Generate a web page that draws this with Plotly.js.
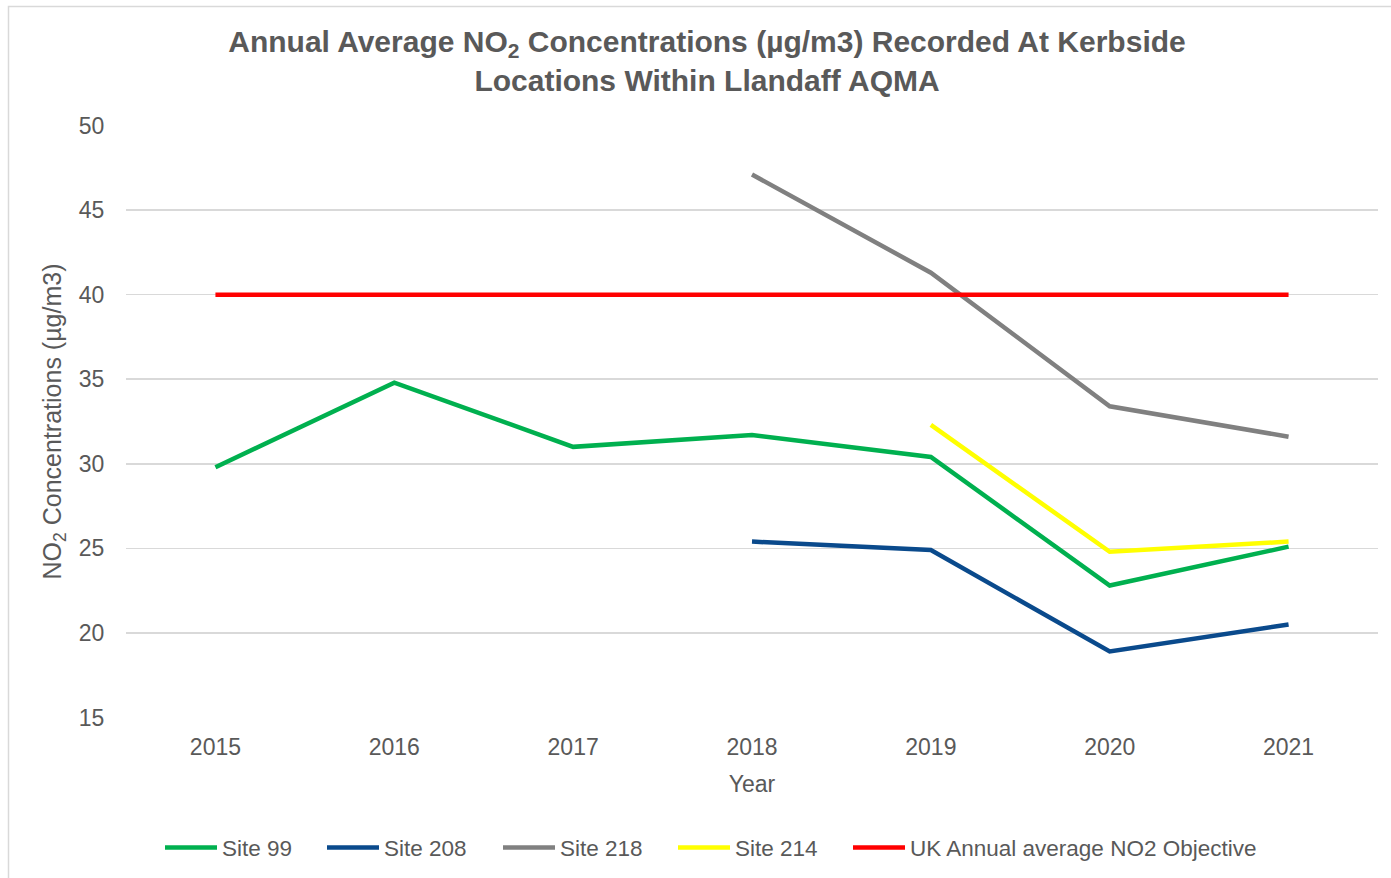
<!DOCTYPE html>
<html>
<head>
<meta charset="utf-8">
<script src="https://cdn.plot.ly/plotly-3.0.1.min.js"></script>
<style>html,body{margin:0;padding:0;background:#fff;}#chart{width:1391px;height:878px;}</style>
</head>
<body>
<div id="chart"></div>
<script>
const years = ['2015', '2016', '2017', '2018', '2019', '2020', '2021'];
const site99 = [29.8, 34.8, 31.0, 31.7, 30.4, 22.8, 25.1];
const site208 = [null, null, null, 25.4, 24.9, 18.9, 20.5];
const site218 = [null, null, null, 47.1, 41.3, 33.4, 31.6];
const site214 = [null, null, null, null, 32.3, 24.8, 25.4];
const ukObjective = [40, 40, 40, 40, 40, 40, 40];
const seriesNames = ['Site 99', 'Site 208', 'Site 218', 'Site 214', 'UK Annual average NO2 Objective'];
const seriesColors = ['#00b04f', '#0a4a8c', '#808080', '#ffff00', '#ff0000'];
const seriesValues = [site99, site208, site218, site214, ukObjective];

const legendIds = ['legend', 'legend2', 'legend3', 'legend4', 'legend5'];
const legendStartPx = [165, 327, 503, 678, 853];

const traces = seriesValues.map((vals, i) => ({
  x: years,
  y: vals,
  name: seriesNames[i],
  type: 'scatter',
  mode: 'lines',
  connectgaps: false,
  legend: legendIds[i],
  line: {color: seriesColors[i], width: 4.5}
}));
const gray = '#595959';
const layout = {
  width: 1391,
  height: 878,
  paper_bgcolor: '#ffffff',
  plot_bgcolor: '#ffffff',
  font: {family: 'Liberation Sans, Arial, sans-serif', color: gray, size: 23},
  margin: {l: 126, r: 13, t: 125, b: 160, autoexpand: false},
  title: {
    text: '<b>Annual Average NO<sub>2</sub> Concentrations (µg/m3) Recorded At Kerbside<br>Locations Within Llandaff AQMA</b>',
    font: {size: 30, color: gray, family: 'Liberation Sans, Arial, sans-serif'},
    x: 707 / 1391, xanchor: 'center', xref: 'container',
    y: 1 - 52 / 878, yanchor: 'middle', yref: 'container'
  },
  xaxis: {
    type: 'category',
    range: [-0.5, 6.5],
    showgrid: false,
    zeroline: false,
    showline: false,
    ticks: 'outside', ticklen: 8, tickcolor: 'rgba(0,0,0,0)',
    tickfont: {size: 23, color: gray},
    title: {text: 'Year', font: {size: 23, color: gray}, standoff: 17}
  },
  yaxis: {
    range: [14.97, 50.03],
    tickvals: [15, 20, 25, 30, 35, 40, 45, 50],
    showgrid: true,
    gridcolor: '#d9d9d9',
    gridwidth: 1.5,
    zeroline: false,
    showline: false,
    ticks: 'outside', ticklen: 16, tickcolor: 'rgba(0,0,0,0)',
    tickfont: {size: 23, color: gray},
    title: {text: 'NO<sub>2</sub> Concentrations (µg/m3)', font: {size: 25, color: gray}, standoff: 10}
  },
  shapes: [{
    type: 'rect', xref: 'paper', yref: 'paper',
    x0: (8.5 - 126) / 1252, x1: (1400 - 126) / 1252,
    y0: (718 - 885) / 593, y1: (718 - 6.5) / 593,
    line: {color: '#d9d9d9', width: 1.5},
    fillcolor: 'rgba(0,0,0,0)',
    layer: 'below'
  }],
  showlegend: true
};
legendIds.forEach((id, i) => {
  layout[id] = {
    orientation: 'h',
    x: (legendStartPx[i] - 5 - 126) / 1252, xanchor: 'left',
    y: -0.219, yanchor: 'middle',
    font: {size: 22.5, color: gray},
    itemwidth: 52,
    bgcolor: 'rgba(0,0,0,0)'
  };
});
Plotly.newPlot('chart', traces, layout, {displayModeBar: false, staticPlot: true});
</script>
</body>
</html>
